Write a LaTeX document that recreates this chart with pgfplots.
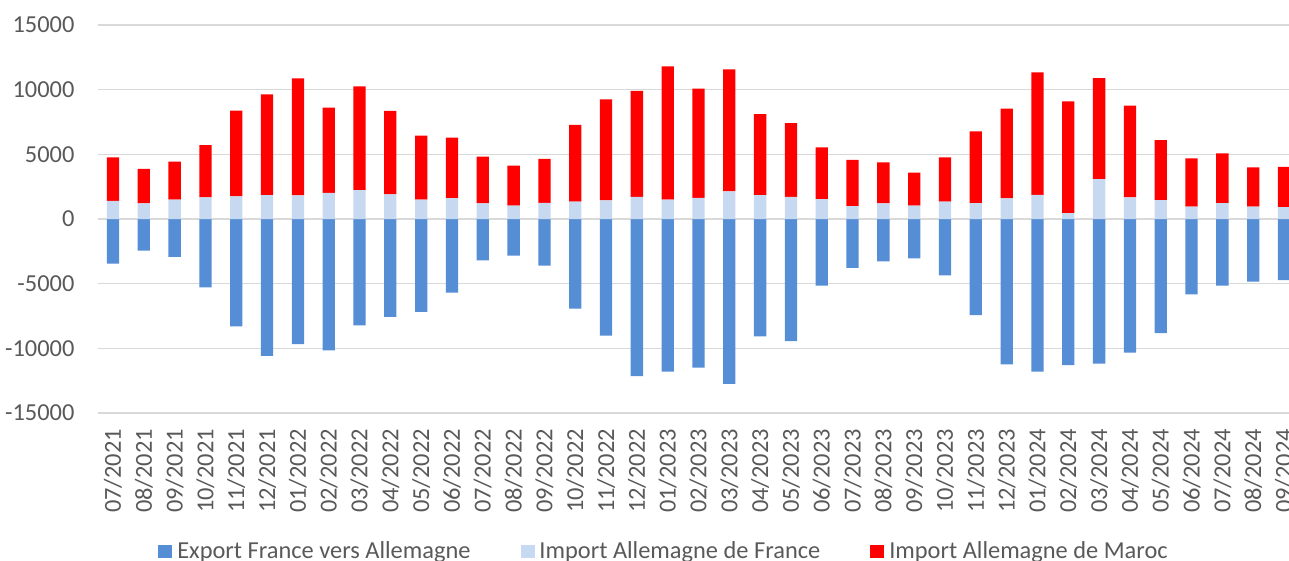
\documentclass[border=0pt]{standalone}
\usepackage{fontspec}
\setmainfont{Carlito}
\usepackage{pgfplots}
\usepackage{pgfplotstable}
\pgfplotsset{compat=1.18}
\definecolor{cexp}{HTML}{558ED5}
\definecolor{clb}{HTML}{C6D9F1}
\definecolor{cred}{HTML}{FF0000}
\definecolor{cgrid}{HTML}{D9D9D9}
\definecolor{ctext}{HTML}{595959}

\pgfplotstableread{
x date exp lb red
0 07/2021 -3450 1410 3360
1 08/2021 -2440 1205 2670
2 09/2021 -2930 1490 2950
3 10/2021 -5280 1670 4050
4 11/2021 -8310 1745 6640
5 12/2021 -10580 1845 7795
6 01/2022 -9670 1820 9050
7 02/2022 -10160 2025 6590
8 03/2022 -8230 2230 8025
9 04/2022 -7570 1900 6460
10 05/2022 -7180 1490 4950
11 06/2022 -5690 1615 4670
12 07/2022 -3190 1205 3615
13 08/2022 -2830 1025 3100
14 09/2022 -3600 1255 3385
15 10/2022 -6920 1335 5950
16 11/2022 -9010 1435 7820
17 12/2022 -12140 1720 8180
18 01/2023 -11810 1490 10310
19 02/2023 -11500 1640 8435
20 03/2023 -12740 2130 9435
21 04/2023 -9080 1845 6255
22 05/2023 -9440 1720 5690
23 06/2023 -5150 1540 4000
24 07/2023 -3780 1000 3565
25 08/2023 -3270 1205 3180
26 09/2023 -3040 1025 2565
27 10/2023 -4350 1335 3435
28 11/2023 -7440 1230 5540
29 12/2023 -11240 1590 6950
30 01/2024 -11810 1870 9460
31 02/2024 -11300 460 8640
32 03/2024 -11190 3080 7820
33 04/2024 -10340 1665 7100
34 05/2024 -8830 1460 4640
35 06/2024 -5820 950 3740
36 07/2024 -5150 1230 3845
37 08/2024 -4840 950 3050
38 09/2024 -4730 925 3100
}\data

\pgfplotsset{
  common/.style={
    scale only axis, width=1201.8pt, height=388pt,
    xmin=-0.5, xmax=38.5, ymin=-15000, ymax=15000,
    at={(0pt,0pt)}, anchor=south west,
    bar width=12.3pt,
  },
  sqleg/.style={legend image code/.code={\fill[##1] (0pt,-6.5pt) rectangle (14pt,6.5pt);}},
}

\begin{document}
\begin{tikzpicture}
\begin{axis}[common, ybar,
  axis line style={draw=none},
  major tick length=0pt,
  ytick={-15000,-10000,-5000,0,5000,10000,15000},
  scaled y ticks=false,
  ymajorgrids, grid style={cgrid, line width=1.3pt},
  xtick={0,...,38},
  xticklabels from table={\data}{date},
  /pgf/number format/fixed,
  /pgf/number format/1000 sep={},
  /pgf/number format/assume math mode=true,
  tick label style={font=\fontsize{24.4}{28}\selectfont, text=ctext, inner sep=0pt},
  x tick label style={rotate=90, anchor=east},
  y tick label style={anchor=east},
  xticklabel shift=16pt,
  yticklabel shift=23pt,
  clip=false,
]
\coordinate (O) at (rel axis cs:0,0);
\addplot[fill=cexp, draw=none] table[x=x, y=exp] {\data};
\end{axis}
\begin{axis}[common, ybar stacked, hide axis,
  legend columns=3,
  legend style={draw=none, fill=none, at={(0.4713,-0.3557)}, anchor=center,
    font=\fontsize{24.4}{28}\selectfont, text=ctext,
    /tikz/every odd column/.append style={column sep=3pt},
    /tikz/every even column/.append style={column sep=48pt},
    nodes={inner sep=2pt}},
]
\addlegendimage{sqleg, fill=cexp, draw=none}
\addlegendentry{Export France vers Allemagne}
\addplot[fill=clb, draw=none, sqleg] table[x=x, y=lb] {\data};
\addlegendentry{Import Allemagne de France}
\addplot[fill=cred, draw=none, sqleg] table[x=x, y=red] {\data};
\addlegendentry{Import Allemagne de Maroc}
\end{axis}
\pgfresetboundingbox
\path[use as bounding box] ([shift={(-97.6pt,-147pt)}]O) rectangle ++(1289pt,560pt);
\end{tikzpicture}
\end{document}
